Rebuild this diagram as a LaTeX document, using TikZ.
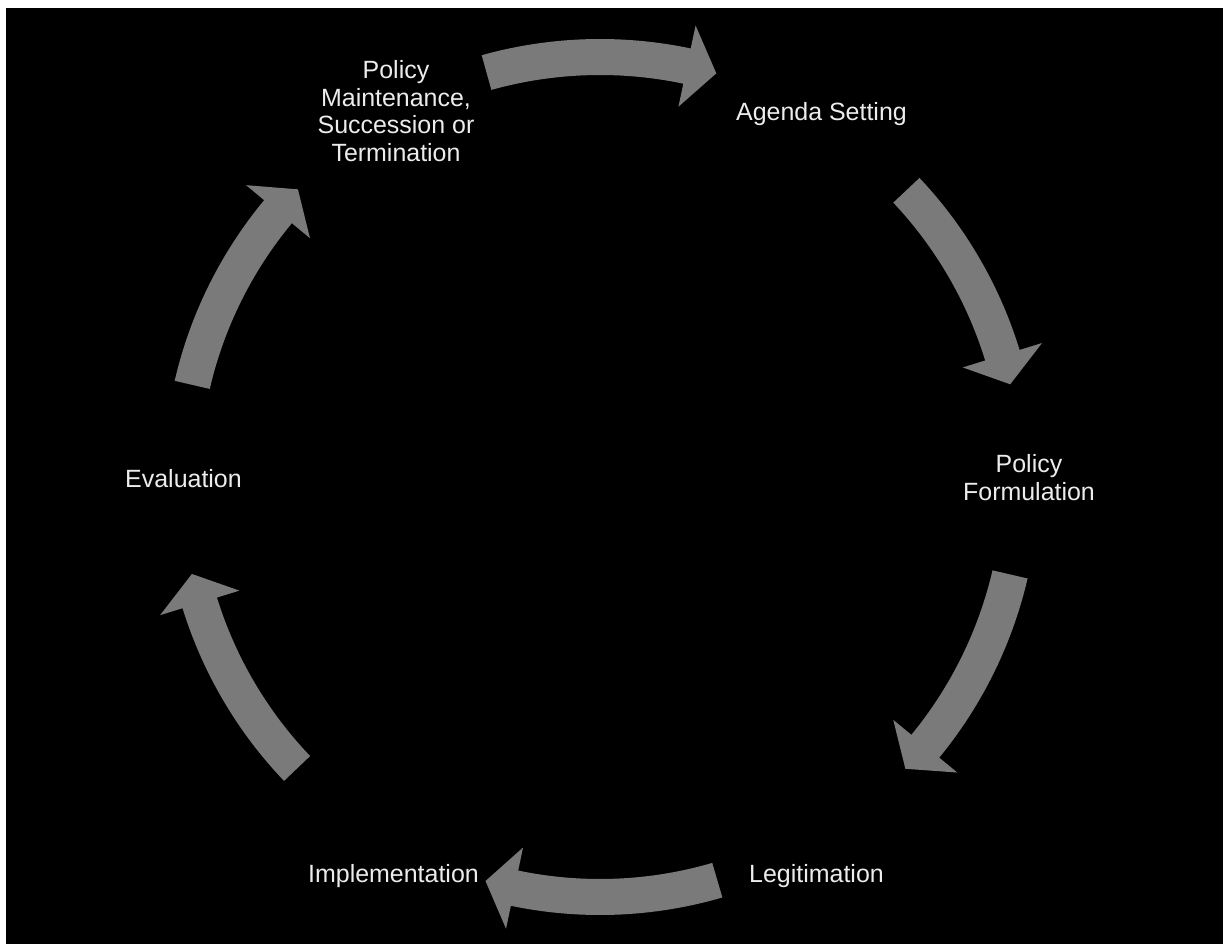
\documentclass[tikz,border=0pt]{standalone}
\usepackage{fontspec}
\setmainfont{Liberation Sans}
\definecolor{stagegray}{RGB}{122,122,122}
\definecolor{stagetext}{RGB}{236,236,236}

\begin{document}
\begin{tikzpicture}[stage/.style={text=stagetext, font=\fontsize{14.2pt}{15.8pt}\selectfont, align=center, inner sep=0pt},
                    cycle_arrow/.style={fill=stagegray}]

            % page and dark panel
            \useasboundingbox (-12,-9.3) rectangle (12.46,9.58);
            \fill[white] (-12,-9.3) rectangle (12.46,9.58);
            \fill[black] (-11.88,-9.3) rectangle (12.46,9.42);

            % stages of the cycle
            \node[stage] (s0) at (4.43,7.16) [anchor=base] {Agenda Setting};
            \node[stage] (s1) at (8.58,0.03) {Policy\\Formulation};
            \node[stage] (s2) at (4.33,-8.06) [anchor=base] {Legitimation};
            \node[stage] (s3) at (-4.13,-8.06) [anchor=base] {Implementation};
            \node[stage] (s4) at (-8.33,-0.16) [anchor=base] {Evaluation};
            \node[stage] (s5) at (-4.08,7.36) {Policy\\Maintenance,\\Succession or\\Termination};

            % curved block arrows round the ring (outer edge, head, inner edge)
            \fill[cycle_arrow] (105.6:8.80) arc[start angle=105.6, end angle=78.1, radius=8.80]
                -- (78.1:9.27) -- (74.0:8.44) -- (78.1:7.61)
                -- (78.1:8.08) arc[start angle=78.1, end angle=105.6, radius=8.08] -- cycle;
            \fill[cycle_arrow] (43.3:8.78) arc[start angle=43.3, end angle=17.1, radius=8.78]
                -- (17.1:9.25) -- (13.0:8.42) -- (17.1:7.59)
                -- (17.1:8.06) arc[start angle=17.1, end angle=43.3, radius=8.06] -- cycle;
            \fill[cycle_arrow] (-13.1:8.78) arc[start angle=-13.1, end angle=-39.4, radius=8.78]
                -- (-39.4:9.25) -- (-43.5:8.42) -- (-39.4:7.59)
                -- (-39.4:8.06) arc[start angle=-39.4, end angle=-13.1, radius=8.06] -- cycle;
            \fill[cycle_arrow] (-73.7:8.72) arc[start angle=-73.7, end angle=-101.8, radius=8.72]
                -- (-101.8:9.19) -- (-105.9:8.36) -- (-101.8:7.53)
                -- (-101.8:8.00) arc[start angle=-101.8, end angle=-73.7, radius=8.00] -- cycle;
            \fill[cycle_arrow] (-136.3:8.74) arc[start angle=-136.3, end angle=-162.8, radius=8.74]
                -- (-162.8:9.21) -- (-166.9:8.38) -- (-162.8:7.55)
                -- (-162.8:8.02) arc[start angle=-162.8, end angle=-136.3, radius=8.02] -- cycle;
            \fill[cycle_arrow] (167.0:8.73) arc[start angle=167.0, end angle=140.3, radius=8.73]
                -- (140.3:9.20) -- (136.2:8.37) -- (140.3:7.54)
                -- (140.3:8.01) arc[start angle=140.3, end angle=167.0, radius=8.01] -- cycle;
        \end{tikzpicture}
\end{document}
